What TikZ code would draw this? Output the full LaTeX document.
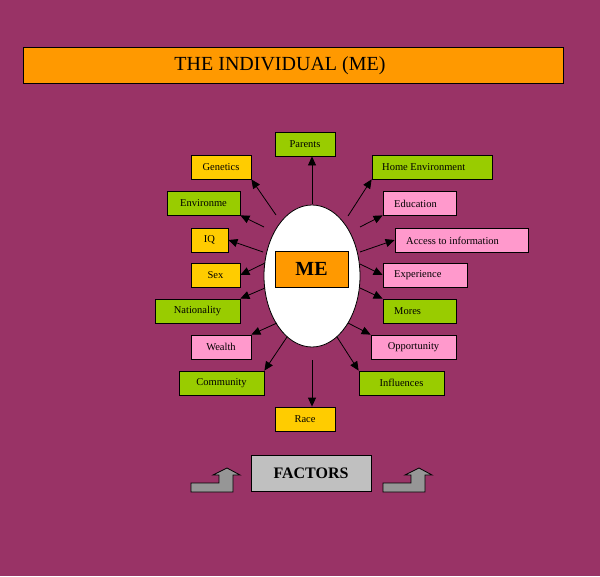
\documentclass[tikz,border=0pt]{standalone}
\usepackage{fontspec}
\setmainfont{Liberation Serif}
\usetikzlibrary{arrows.meta,shapes.geometric}
\definecolor{bgc}{HTML}{993366}
\definecolor{orangec}{HTML}{FF9900}
\definecolor{greenc}{HTML}{99CC00}
\definecolor{yellowc}{HTML}{FFCC00}
\definecolor{pinkc}{HTML}{FF99CC}
\definecolor{greyc}{HTML}{C0C0C0}
\definecolor{darkgreyc}{HTML}{969696}
\tikzset{
  box/.style={draw=black,line width=0.8pt,inner sep=0pt,minimum height=24pt,font=\fontsize{10.5}{12}\selectfont},
  gbox/.style={box,fill=greenc},
  ybox/.style={box,fill=yellowc},
  pbox/.style={box,fill=pinkc},
  ltxt/.style={anchor=west,inner sep=0pt,font=\fontsize{10.5}{12}\selectfont},
  conn/.style={line width=0.8pt,-{Triangle[length=9pt,width=8pt]}},
  bentarrow/.style={draw=black,line width=0.8pt,fill=darkgreyc}
}
\begin{document}
\begin{tikzpicture}[x=1pt,y=-1pt]
\fill[bgc] (0,0) rectangle (600,576);
\useasboundingbox (0,0) rectangle (600,576);
% title
\node[draw=black,line width=0.8pt,fill=orangec,minimum width=540pt,minimum height=36pt,inner sep=0pt] (title) at (293,65) {};
\node[inner sep=0pt,font=\fontsize{20}{24}\selectfont] (titletxt) at (280,66) {THE INDIVIDUAL (ME)};
% ellipse and ME
\node[draw=black,line width=0.8pt,fill=white,ellipse,minimum width=96pt,minimum height=142pt,inner sep=0pt] (oval) at (312,276) {};
\node[draw=black,line width=0.8pt,fill=orangec,minimum width=73pt,minimum height=36pt,inner sep=0pt,font=\fontsize{20}{24}\selectfont\bfseries] (me) at (311.5,269) {ME};
% left boxes
\node[gbox,minimum width=60pt] (parents) at (305,144) {Parents};
\node[ybox,minimum width=60pt] (genetics) at (221,167) {Genetics};
\node[gbox,minimum width=73pt] (environ) at (203.5,203) {Environme};
\node[ybox,minimum width=37pt] (iq) at (209.5,240) {IQ};
\node[ybox,minimum width=49pt] (sex) at (215.5,275) {Sex};
\node[gbox,minimum width=85pt] (nation) at (197.5,311) {Nationality};
\node[pbox,minimum width=60pt] (wealth) at (221,347) {Wealth};
\node[gbox,minimum width=85pt] (community) at (221.5,383) {Community};
\node[ybox,minimum width=60pt] (race) at (305,419) {Race};
% right boxes
\node[gbox,minimum width=120pt] (home) at (432,167) {};
\node[ltxt] (hometxt) at (382,167.5) {Home Environment};
\node[pbox,minimum width=73pt] (education) at (419.5,203) {};
\node[ltxt] (edutxt) at (394,203.5) {Education};
\node[pbox,minimum width=133pt] (access) at (461.5,240) {};
\node[ltxt] (accesstxt) at (406,240.5) {Access to information};
\node[pbox,minimum width=84pt] (experience) at (425,275) {};
\node[ltxt] (exptxt) at (394,275.5) {Experience};
\node[gbox,minimum width=73pt] (mores) at (419.5,311) {};
\node[ltxt] (morestxt) at (394,311.5) {Mores};
\node[pbox,minimum width=85pt] (opportunity) at (413.5,347) {Opportunity};
\node[gbox,minimum width=85pt] (influences) at (401.5,383) {Influences};
% connector start points
\coordinate (sParents) at (312,204);
\coordinate (sGenetics) at (276,215);
\coordinate (sEnviron) at (264,227);
\coordinate (sIQ) at (263,252);
\coordinate (sSex) at (265,263);
\coordinate (sNation) at (265,288);
\coordinate (sWealth) at (277,323);
\coordinate (sCommunity) at (287,337);
\coordinate (sRace) at (312,360);
\coordinate (sHome) at (348,216);
\coordinate (sEdu) at (360,227);
\coordinate (sAccess) at (360,252);
\coordinate (sExp) at (360,264);
\coordinate (sMores) at (360,288);
\coordinate (sOpp) at (348,323);
\coordinate (sInfl) at (337,337);
% connectors
\draw[conn] (sParents) -- (sParents |- parents.south);
\draw[conn] (sGenetics) -- (genetics.south east);
\draw[conn] (sEnviron) -- (environ.south east);
\draw[conn] (sIQ) -- (iq.east);
\draw[conn] (sSex) -- (sex.east);
\draw[conn] (sNation) -- (nation.north east);
\draw[conn] (sWealth) -- (wealth.north east);
\draw[conn] (sCommunity) -- (community.north east);
\draw[conn] (sRace) -- (sRace |- race.north);
\draw[conn] (sHome) -- (home.south west);
\draw[conn] (sEdu) -- (education.south west);
\draw[conn] (sAccess) -- (access.west);
\draw[conn] (sExp) -- (experience.west);
\draw[conn] (sMores) -- (mores.north west);
\draw[conn] (sOpp) -- (opportunity.north west);
\draw[conn] (sInfl) -- (influences.north west);
% factors
\node[draw=black,line width=0.8pt,fill=greyc,minimum width=120pt,minimum height=36pt,inner sep=0pt,font=\fontsize{16}{19}\selectfont\bfseries] (factors) at (311,473) {FACTORS};
% bent-up arrows
\path[bentarrow] (191,492) -- (233,492) -- (233,475) -- (240,475) -- (227,468) -- (213,475) -- (219,475) -- (219,483) -- (191,483) -- cycle;
\path[bentarrow] (383,492) -- (425,492) -- (425,475) -- (432,475) -- (419,468) -- (405,475) -- (411,475) -- (411,483) -- (383,483) -- cycle;
\end{tikzpicture}
\end{document}
